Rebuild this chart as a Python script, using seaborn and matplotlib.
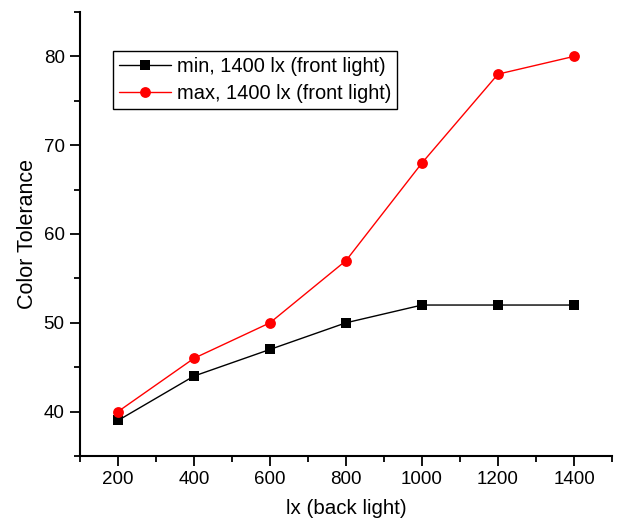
import matplotlib
matplotlib.use("Agg")
import matplotlib.pyplot as plt
import seaborn as sns
import pandas as pd
from matplotlib.ticker import MultipleLocator

back_light = [200, 400, 600, 800, 1000, 1200, 1400]
min_vals = [39, 44, 47, 50, 52, 52, 52]
max_vals = [40, 46, 50, 57, 68, 78, 80]
series_names = ["min, 1400 lx (front light)", "max, 1400 lx (front light)"]

df = pd.DataFrame({
    "lx": back_light * 2,
    "val": min_vals + max_vals,
    "series": [series_names[0]] * len(back_light) + [series_names[1]] * len(back_light),
})

sns.set_style("white")
plt.rcParams["font.family"] = ["Liberation Sans", "DejaVu Sans"]
plt.rcParams["text.color"] = "black"
plt.rcParams["axes.labelcolor"] = "black"
plt.rcParams["xtick.color"] = "black"
plt.rcParams["ytick.color"] = "black"

fig = plt.figure(figsize=(6.18, 5.23), dpi=100)
ax = fig.add_axes([0.1294, 0.1281, 0.8609, 0.849])

sns.lineplot(data=df, x="lx", y="val", hue="series", style="series",
             palette=["black", "#ff0000"], markers=["s", "o"], dashes=False,
             markersize=7.8, linewidth=1, markeredgewidth=0, ax=ax)

ax.set_xlim(100, 1500)
ax.set_ylim(35, 85)
ax.xaxis.set_major_locator(MultipleLocator(200))
ax.xaxis.set_minor_locator(MultipleLocator(100))
ax.yaxis.set_major_locator(MultipleLocator(10))
ax.yaxis.set_minor_locator(MultipleLocator(5))
ax.set_xticks(back_light)
ax.tick_params(axis="both", which="major", direction="out", length=7, width=1.3,
               labelsize=13.5, bottom=True, left=True, colors="black", pad=4)
ax.tick_params(axis="both", which="minor", direction="out", length=4, width=1.3,
               bottom=True, left=True, colors="black")
for s in ["top", "right"]:
    ax.spines[s].set_visible(False)
for s in ["left", "bottom"]:
    ax.spines[s].set_color("black")
    ax.spines[s].set_linewidth(1.5)

ax.set_xlabel("lx (back light)", fontsize=14.8, labelpad=8, color="black")
ax.set_ylabel("Color Tolerance", fontsize=15.5, labelpad=4, color="black")

leg = ax.legend(loc="upper left", bbox_to_anchor=(0.062, 0.912), fontsize=14.4,
                frameon=True, fancybox=False, edgecolor="black", framealpha=1,
                borderpad=0.3, handlelength=2.6, handletextpad=0.3, labelspacing=0.4,
                borderaxespad=0)
leg.get_frame().set_linewidth(1)
for t in leg.get_texts():
    t.set_color("black")

fig.savefig("out.png", dpi=100)
